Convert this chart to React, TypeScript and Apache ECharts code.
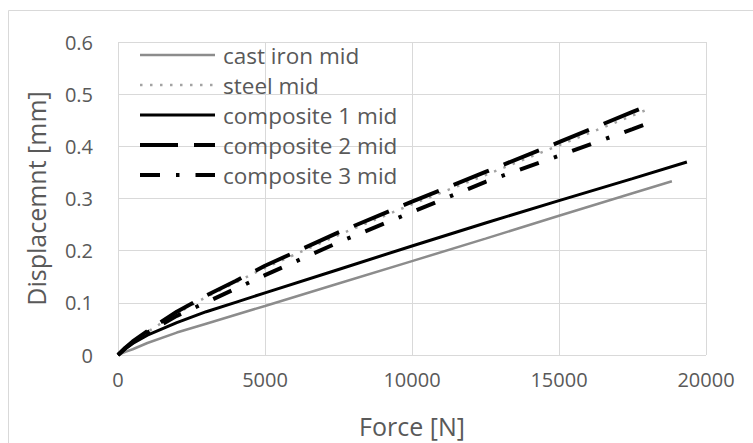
import React, { useEffect, useRef } from "react";
import * as echarts from "echarts";

const xTicks = [0, 5000, 10000, 15000, 20000];
const yTicks = [0, 0.1, 0.2, 0.3, 0.4, 0.5, 0.6];

const seriesNames = [
  "cast iron mid",
  "steel mid",
  "composite 1 mid",
  "composite 2 mid",
  "composite 3 mid",
];

const castIronForce = [0, 250, 500, 1000, 2000, 3000, 5000, 7500, 10000, 12500, 15000, 17500, 18840];
const castIronDisp = [0, 0.006, 0.011, 0.023, 0.043, 0.06, 0.094, 0.137, 0.18, 0.223, 0.267, 0.31, 0.333];

const steelForce = [0, 250, 500, 1000, 2000, 3000, 4000, 5000, 7500, 10000, 12500, 15000, 17500, 18150];
const steelDisp = [0, 0.013, 0.025, 0.044, 0.08, 0.111, 0.139, 0.167, 0.23, 0.289, 0.345, 0.402, 0.459, 0.474];

const comp1Force = [0, 250, 500, 1000, 2000, 3000, 4000, 5000, 7500, 10000, 12500, 15000, 17500, 19350];
const comp1Disp = [0, 0.012, 0.022, 0.038, 0.062, 0.083, 0.101, 0.119, 0.164, 0.209, 0.253, 0.296, 0.338, 0.37];

const comp2Force = [0, 250, 500, 1000, 2000, 3000, 4000, 5000, 7500, 10000, 12500, 15000, 17500, 18200];
const comp2Disp = [0, 0.014, 0.026, 0.046, 0.083, 0.114, 0.142, 0.171, 0.235, 0.294, 0.351, 0.408, 0.466, 0.482];

const comp3Force = [0, 250, 500, 1000, 2000, 3000, 4000, 5000, 7500, 10000, 12500, 15000, 17500, 18130];
const comp3Disp = [0, 0.013, 0.024, 0.043, 0.075, 0.101, 0.127, 0.153, 0.216, 0.274, 0.332, 0.382, 0.433, 0.446];

const pair = (xs: number[], ys: number[]) => xs.map((x, i) => [x, ys[i]]);

export default function App() {
  const ref = useRef<HTMLDivElement>(null);
  useEffect(() => {
    if (!ref.current) return;
    const chart = echarts.init(ref.current, null, { renderer: "svg" });
    const gray = "#595959";
    const grid = "#d9d9d9";
    const styles: { color: string; width: number; type: any }[] = [
      { color: "#8c8c8c", width: 2.5, type: "solid" },
      { color: "#a3a3a3", width: 2.5, type: [2.5, 7.5] },
      { color: "#000000", width: 3, type: "solid" },
      { color: "#000000", width: 4, type: [38, 16] },
      { color: "#000000", width: 4, type: [20, 16, 3.5, 16] },
    ];
    const datasets = [
      pair(castIronForce, castIronDisp),
      pair(steelForce, steelDisp),
      pair(comp1Force, comp1Disp),
      pair(comp2Force, comp2Disp),
      pair(comp3Force, comp3Disp),
    ];
    chart.setOption({
      animation: false,
      textStyle: { fontFamily: "Open Sans" },
      graphic: [
        { type: "line", shape: { x1: 8.5, y1: 10.5, x2: 753, y2: 10.5 }, style: { stroke: grid, lineWidth: 1 } },
        { type: "line", shape: { x1: 8.5, y1: 10.5, x2: 8.5, y2: 443 }, style: { stroke: grid, lineWidth: 1 } },
      ],
      grid: { left: 118, top: 42, width: 588, height: 314, containLabel: false },
      legend: {
        orient: "vertical",
        left: 138,
        top: 40,
        itemWidth: 75,
        itemHeight: 14,
        itemGap: 0,
        padding: 0,
        itemStyle: { opacity: 0, color: "transparent", borderColor: "transparent", borderWidth: 0 },
        data: seriesNames.map((name, i) => ({
          name,
          itemStyle: { opacity: 0, color: "transparent", borderColor: "transparent", borderWidth: 0 },
          lineStyle: { width: styles[i].width, type: styles[i].type, color: styles[i].color, cap: "butt" },
        })),
        textStyle: { color: gray, fontSize: 22.5, lineHeight: 30, fontFamily: "Open Sans", padding: [0, 0, 0, 3] },
      },
      xAxis: {
        type: "value",
        min: xTicks[0],
        max: xTicks[xTicks.length - 1],
        interval: xTicks[1] - xTicks[0],
        name: "Force [N]",
        nameLocation: "middle",
        nameGap: 58,
        nameTextStyle: { color: gray, fontSize: 25, fontFamily: "Open Sans" },
        axisLine: { show: false },
        axisTick: { show: false },
        axisLabel: { color: gray, fontSize: 20, margin: 14, fontFamily: "Open Sans", formatter: (v: number) => String(v) },
        splitLine: { show: true, lineStyle: { color: grid, width: 1 } },
      },
      yAxis: {
        type: "value",
        min: yTicks[0],
        max: yTicks[yTicks.length - 1],
        interval: 0.1,
        name: "Displacemnt [mm]",
        nameLocation: "middle",
        nameGap: 70,
        nameTextStyle: { color: gray, fontSize: 25, fontFamily: "Open Sans" },
        axisLine: { show: false },
        axisTick: { show: false },
        axisLabel: {
          color: gray,
          fontSize: 20,
          margin: 25,
          fontFamily: "Open Sans",
          formatter: (v: number) => String(Math.round(v * 10) / 10),
        },
        splitLine: { show: true, lineStyle: { color: grid, width: 1 } },
      },
      series: seriesNames.map((name, i) => ({
        name,
        type: "line",
        data: datasets[i],
        symbol: "none",
        showSymbol: false,
        lineStyle: { color: styles[i].color, width: styles[i].width, type: styles[i].type, cap: "butt" },
        itemStyle: { color: styles[i].color },
        emphasis: { disabled: true },
      })),
    });
    return () => chart.dispose();
  }, []);
  return (
    <div
      ref={ref}
      style={{ position: "fixed", left: 0, top: 0, width: 753, height: 443, background: "#fff" }}
    />
  );
}
